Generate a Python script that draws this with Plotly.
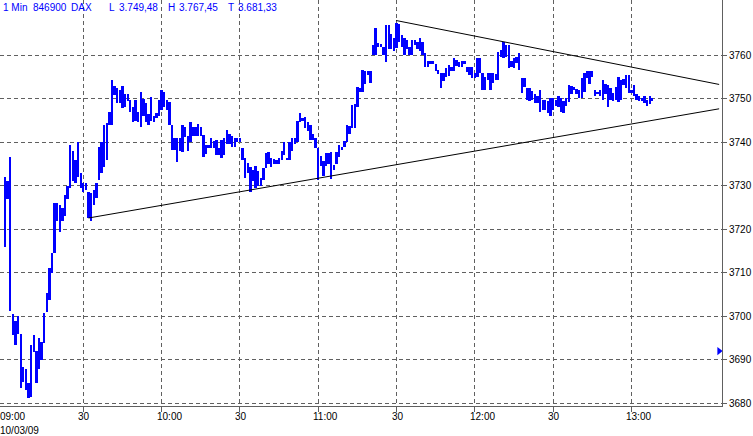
import plotly.graph_objects as go

# ---- data: 1-minute DAX bars from 09:00 (minute index), high / low ----
highs = [
    3732, 3731, 3736.6, 3700.5, 3699, 3700, 3696, 3688.4, 3688, 3684.7,
    3693.4, 3695.7, 3692, 3695, 3694, 3700.8, 3705.3, 3711, 3714.5, 3726,
    3726, 3725.6, 3725, 3728, 3730, 3739.4, 3738, 3736, 3740, 3733,
    3730.7, 3730.7, 3728.6, 3728.4, 3729, 3730.6, 3739, 3740, 3744, 3744.4,
    3747, 3754.3, 3753, 3752.5, 3752, 3753, 3751, 3751, 3749.7, 3748,
    3749.7, 3747, 3751.6, 3750, 3749, 3746.5, 3750.5, 3746, 3746.7, 3749.7,
    3752, 3751.6, 3749.7, 3749.3, 3744, 3741, 3741, 3741, 3744, 3743.5,
    3741.5, 3744.6, 3743.5, 3743.5, 3744.3, 3743.5, 3741.7, 3739.4, 3739.4, 3741,
    3740.3, 3740.5, 3738.8, 3740.5, 3741, 3742.8, 3742, 3741.5, 3741, 3741,
    3741, 3738.6, 3736.4, 3735.3, 3734.3, 3733.6, 3734.6, 3733.4, 3731.8, 3734,
    3737.5, 3737.8, 3736.5, 3736.2, 3736, 3736.5, 3738, 3740, 3736.5, 3740,
    3741, 3741, 3745, 3746.7, 3745.7, 3745.8, 3744.7, 3744, 3741.8, 3741,
    3738.7, 3736.8, 3735.7, 3737.5, 3737.5, 3737.8, 3734.8, 3737.8, 3739.4, 3739,
    3740.4, 3744, 3743.8, 3748.6, 3748.9, 3752.7, 3752.4, 3756.6, 3756.3, 3756.4,
    3756.3, 3762.4, 3766.3, 3762.8, 3762.5, 3762, 3767, 3767, 3765, 3764,
    3767.45, 3767.3, 3764.7, 3764, 3763.6, 3762, 3763.5, 3763.5, 3763, 3764,
    3763, 3760.5, 3758.6, 3758.6, 3758.6, 3758, 3756.7, 3756, 3756, 3757,
    3757.8, 3757.4, 3759.4, 3759, 3758.4, 3758.6, 3758.7, 3757.3, 3757.3, 3757.3,
    3756, 3759.4, 3759.4, 3756, 3755, 3756, 3756, 3756, 3755.7, 3760.8,
    3761.2, 3763, 3762.4, 3762.4, 3758.6, 3759.4, 3759.7, 3760.5, 3754.8, 3754.7,
    3752.5, 3752.5, 3751.7, 3751, 3750.6, 3752, 3749.8, 3749.8, 3749.4, 3750.2,
    3750.2, 3749.8, 3750.6, 3750.2, 3749.4, 3750.2, 3753.2, 3753, 3752.7, 3752.3,
    3752, 3754.8, 3756, 3756.3, 3756.3, 3756.3, 3752, 3751.6, 3752, 3754.3,
    3753.5, 3753.2, 3752.4, 3751.4, 3752.7, 3755, 3754.3, 3754.6, 3755.4, 3755.4,
    3752, 3753.2, 3751, 3750.6, 3750.2, 3750.6, 3749.8, 3750.6, 3750.2,
]
lows = [
    3716, 3727, 3701.2, 3695.7, 3693.4, 3696, 3683.5, 3685, 3683, 3681.33,
    3681.5, 3691.8, 3684.6, 3688, 3690, 3693.8, 3701, 3703.8, 3710, 3714.5,
    3722, 3719.4, 3722, 3723, 3727, 3729.5, 3731, 3730.6, 3732, 3729.5,
    3728.6, 3729, 3722.6, 3722, 3725.6, 3727.3, 3731.4, 3733, 3734.4, 3736,
    3744, 3744, 3750.9, 3749, 3749, 3747.9, 3748, 3749.5, 3747, 3744.6,
    3745, 3744.6, 3743.5, 3746, 3744.6, 3744, 3745, 3744.6, 3745.5, 3746,
    3747.4, 3748, 3747.5, 3744, 3738.3, 3738.3, 3735.5, 3738, 3737.8, 3741.2,
    3738, 3740, 3741.5, 3741.5, 3741.5, 3741.5, 3736.6, 3737.3, 3738.7, 3738.7,
    3738.7, 3737, 3737, 3736.4, 3737, 3739.5, 3739.5, 3739, 3739, 3740,
    3740, 3735.9, 3731.8, 3733, 3728.6, 3731, 3729.5, 3730, 3730, 3731.4,
    3734, 3735, 3734.4, 3735, 3735, 3735, 3736, 3737, 3736, 3736,
    3738, 3739.5, 3740, 3744.6, 3745, 3743.3, 3742.6, 3740.6, 3740.6, 3738.7,
    3731.3, 3734.6, 3732.3, 3734.5, 3735, 3731.5, 3733.7, 3735, 3736.6, 3738.3,
    3739, 3740, 3742, 3743.3, 3743.3, 3748.2, 3751.5, 3751.6, 3753.4, 3755.5,
    3753.6, 3760, 3760, 3762, 3762, 3760, 3758.5, 3761.5, 3761.5, 3761,
    3761.6, 3763, 3762, 3760, 3761.5, 3760, 3760, 3762.4, 3761.5, 3761,
    3760, 3757.4, 3757.4, 3758, 3758, 3756.3, 3755.7, 3752.5, 3754, 3755,
    3755.3, 3756.3, 3756.3, 3757.5, 3757.3, 3757.3, 3758, 3756.1, 3755.4, 3754.7,
    3754.7, 3755, 3756, 3752, 3752, 3754.3, 3752, 3753.7, 3754.3, 3754.4,
    3759.7, 3759.4, 3759.7, 3757, 3757.4, 3757, 3758.2, 3756.7, 3751.4, 3752.7,
    3749.7, 3749.4, 3749.7, 3749, 3749, 3747, 3747.5, 3747.5, 3746.7, 3746,
    3747.5, 3748.4, 3748, 3747, 3746.7, 3748.4, 3749.3, 3751, 3752, 3751.2,
    3750.2, 3750.2, 3751.6, 3754.7, 3753.5, 3755, 3750.6, 3751.2, 3750.6, 3749.7,
    3751, 3748, 3749.7, 3749.4, 3749.7, 3749.3, 3749.7, 3753.2, 3752.5, 3751.4,
    3751.4, 3750.6, 3749.7, 3749.4, 3749.4, 3749, 3748.4, 3748.7, 3749.4,
]
minutes = list(range(len(highs)))  # minutes after 09:00

# trend lines (minute, price)
upper_trend_min = [149.8, 273.6]
upper_trend_px = [3768.0, 3753.3]
lower_trend_min = [32, 273.6]
lower_trend_px = [3722.6, 3747.7]

# previous-close marker at right edge
prev_close_min = [273.6]
prev_close_px = [3692.0]

x_tick_minutes = [0, 30, 60, 90, 120, 150, 180, 210, 240]
x_tick_labels = ["09:00", "30", "10:00", "30", "11:00", "30", "12:00", "30", "13:00"]
y_ticks = [3680, 3690, 3700, 3710, 3720, 3730, 3740, 3750, 3760]
date_label = "10/03/09"

header_items = [("1 Min", 3), ("846900", 33), ("DAX", 71), ("L", 109), ("3.749,48", 119),
                ("H", 168), ("3.767,45", 179), ("T", 228), ("3.681,33", 238)]

FONT = "Liberation Sans, Arial, sans-serif"
GRID = "#606060"
BLUE = "#0000ff"

W, H = 753, 436
ML, MR, MT, MB = 0, 31, 0, 30
PW = W - ML - MR
PH = H - MT - MB

fig = go.Figure()
fig.add_trace(go.Bar(
    x=minutes, y=[h - l if h - l > 0.3 else 0.3 for h, l in zip(highs, lows)], base=lows,
    width=0.9, marker=dict(color=BLUE, line=dict(width=0)), hoverinfo="skip", showlegend=False,
))
fig.add_trace(go.Scatter(x=upper_trend_min, y=upper_trend_px, mode="lines",
                         line=dict(color="black", width=1), showlegend=False, hoverinfo="skip"))
fig.add_trace(go.Scatter(x=lower_trend_min, y=lower_trend_px, mode="lines",
                         line=dict(color="black", width=1), showlegend=False, hoverinfo="skip"))
fig.add_trace(go.Scatter(x=prev_close_min, y=prev_close_px, mode="markers",
                         marker=dict(symbol="triangle-right", size=7, color=BLUE),
                         cliponaxis=False, showlegend=False, hoverinfo="skip"))

annotations = []
for m, lab in zip(x_tick_minutes, x_tick_labels):
    annotations.append(dict(x=m, xref="x", y=0, yref="paper", text=lab, showarrow=False,
                            xanchor="left", yanchor="top", xshift=-7, yshift=-3,
                            font=dict(family=FONT, size=10, color="black")))
annotations.append(dict(x=0, xref="paper", y=0, yref="paper", text=date_label, showarrow=False,
                        xanchor="left", yanchor="top", xshift=-2, yshift=-17,
                        font=dict(family=FONT, size=10, color="black")))
for txt, px in header_items:
    annotations.append(dict(x=px / PW, xref="paper", y=1, yref="paper", text=txt, showarrow=False,
                            xanchor="left", yanchor="top", xshift=-2, yshift=0,
                            font=dict(family=FONT, size=10, color=BLUE)))

fig.update_layout(
    width=W, height=H,
    margin=dict(l=ML, r=MR, t=MT, b=MB, pad=0),
    paper_bgcolor="white", plot_bgcolor="white",
    bargap=0, showlegend=False,
    annotations=annotations,
    shapes=[dict(type="rect", xref="paper", yref="paper", x0=0, x1=300 / PW,
                 y0=1 - 15 / PH, y1=1, fillcolor="white", line=dict(width=0), layer="between")],
    xaxis=dict(range=[-1.92, 274.7], tickmode="array", tickvals=x_tick_minutes[1:],
               showticklabels=False, ticks="outside", ticklen=5, tickcolor=GRID,
               showgrid=True, gridcolor=GRID, griddash="4px,3px", gridwidth=1,
               showline=True, linecolor=GRID, linewidth=1, zeroline=False, fixedrange=True),
    yaxis=dict(range=[3679.38, 3772.71], side="right", tickmode="array", tickvals=y_ticks,
               ticks="outside", ticklen=4, tickcolor=GRID,
               tickfont=dict(family=FONT, size=10, color="black"),
               showgrid=True, gridcolor=GRID, griddash="4px,3px", gridwidth=1,
               showline=True, linecolor=GRID, linewidth=1, zeroline=False, fixedrange=True),
)

fig.write_html("out.html", config={"displayModeBar": False},
               post_script="document.body.style.margin='0';document.body.style.overflow='hidden';")
